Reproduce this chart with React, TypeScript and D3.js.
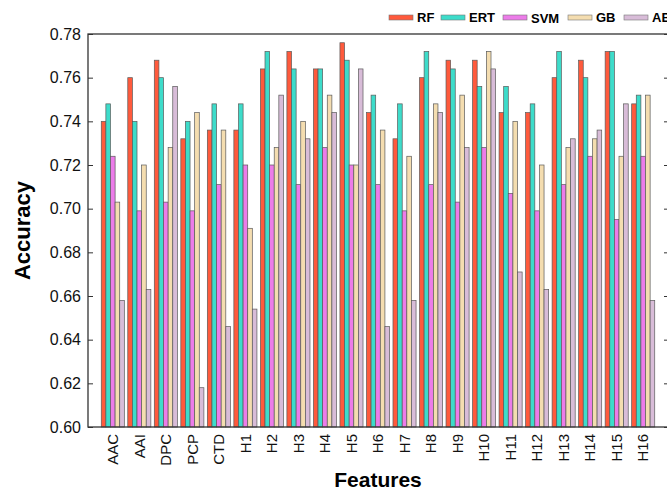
import React, { useEffect, useRef } from 'react';
import * as d3 from 'd3';

// feature sets along the x axis
const features = ['AAC', 'AAI', 'DPC', 'PCP', 'CTD', 'H1', 'H2', 'H3', 'H4', 'H5', 'H6', 'H7', 'H8', 'H9', 'H10', 'H11', 'H12', 'H13', 'H14', 'H15', 'H16'];
const models = ['RF', 'ERT', 'SVM', 'GB', 'AB'];

const rf = [0.740, 0.760, 0.768, 0.732, 0.736, 0.736, 0.764, 0.772, 0.764, 0.776, 0.744, 0.732, 0.760, 0.768, 0.768, 0.744, 0.744, 0.760, 0.768, 0.772, 0.748];
const ert = [0.748, 0.740, 0.760, 0.740, 0.748, 0.748, 0.772, 0.764, 0.764, 0.768, 0.752, 0.748, 0.772, 0.764, 0.756, 0.756, 0.748, 0.772, 0.760, 0.772, 0.752];
const svm = [0.724, 0.699, 0.703, 0.699, 0.711, 0.720, 0.720, 0.711, 0.728, 0.720, 0.711, 0.699, 0.711, 0.703, 0.728, 0.707, 0.699, 0.711, 0.724, 0.695, 0.724];
const gb = [0.703, 0.720, 0.728, 0.744, 0.736, 0.691, 0.728, 0.740, 0.752, 0.720, 0.736, 0.724, 0.748, 0.752, 0.772, 0.740, 0.720, 0.728, 0.732, 0.724, 0.752];
const ab = [0.658, 0.663, 0.756, 0.618, 0.646, 0.654, 0.752, 0.732, 0.744, 0.764, 0.646, 0.658, 0.744, 0.728, 0.764, 0.671, 0.663, 0.732, 0.736, 0.748, 0.658];

const yTicks = [0.60, 0.62, 0.64, 0.66, 0.68, 0.70, 0.72, 0.74, 0.76, 0.78];
const colors = ['#ff5a3c', '#3ddcca', '#ec7ce9', '#f4ddb0', '#d8bcd8'];

const font = '"Liberation Sans", Arial, sans-serif';

const BarChart = () => {
    const ref = useRef<SVGSVGElement>(null);

    useEffect(() => {
        const svg = d3.select(ref.current);
        svg.selectAll('*').remove();

        const left = 88, right = 668, top = 34, bottom = 427;

        const values = [rf, ert, svm, gb, ab];

        const x = d3.scaleBand().domain(features).range([left, right]).paddingInner(0.13).paddingOuter(0.5);
        const xi = d3.scaleBand().domain(models).range([0, x.bandwidth()]);
        const y = d3.scaleLinear().domain([0.6, 0.78]).range([bottom, top]);

        // bars
        features.forEach((f, i) => {
            const g = svg.append('g').attr('transform', `translate(${x(f)},0)`);
            models.forEach((m, j) => {
                const v = values[j][i];
                g.append('rect')
                    .attr('x', xi(m)!)
                    .attr('y', y(v))
                    .attr('width', xi.bandwidth())
                    .attr('height', y(0.6) - y(v))
                    .attr('fill', colors[j])
                    .attr('stroke', '#5a5a5a')
                    .attr('stroke-width', 0.7);
            });
        });

        // frame
        svg.append('rect')
            .attr('x', left).attr('y', top)
            .attr('width', right - left).attr('height', bottom - top)
            .attr('fill', 'none').attr('stroke', '#333').attr('stroke-width', 1.3);

        // y axis (inward ticks)
        const yAxis = svg.append('g').attr('transform', `translate(${left},0)`)
            .call(d3.axisLeft(y).tickValues(yTicks).tickFormat(d3.format('.2f')).tickSizeInner(-5).tickSizeOuter(0).tickPadding(7));
        yAxis.select('.domain').remove();
        yAxis.selectAll('line').attr('stroke', '#333');
        yAxis.selectAll('text').attr('font-family', font).attr('font-size', 16).attr('fill', '#111');

        const yRight = svg.append('g').attr('transform', `translate(${right},0)`)
            .call(d3.axisRight(y).tickValues(yTicks).tickFormat(() => '').tickSizeInner(-4).tickSizeOuter(0));
        yRight.select('.domain').remove();
        yRight.selectAll('line').attr('stroke', '#333');

        // x axis labels (rotated)
        const xAxis = svg.append('g').attr('transform', `translate(0,${bottom})`)
            .call(d3.axisBottom(x).tickSize(0).tickPadding(0));
        xAxis.select('.domain').remove();
        xAxis.selectAll('text')
            .attr('font-family', font).attr('font-size', 15).attr('fill', '#111')
            .attr('transform', 'rotate(-90)')
            .attr('text-anchor', 'end')
            .attr('x', -7).attr('y', 0).attr('dy', '0.35em');

        // axis titles
        svg.append('text')
            .attr('transform', `translate(30,${(top + bottom) / 2}) rotate(-90)`)
            .attr('text-anchor', 'middle')
            .attr('font-family', font).attr('font-size', 22).attr('font-weight', 'bold')
            .text('Accuracy');
        svg.append('text')
            .attr('x', 378).attr('y', 487)
            .attr('text-anchor', 'middle')
            .attr('font-family', font).attr('font-size', 21).attr('font-weight', 'bold')
            .text('Features');

        // legend
        const legendX = [389, 441, 503, 568, 624];
        models.forEach((m, j) => {
            svg.append('rect')
                .attr('x', legendX[j]).attr('y', 15)
                .attr('width', 24).attr('height', 5)
                .attr('fill', colors[j]).attr('stroke', '#777').attr('stroke-width', 0.6);
            svg.append('text')
                .attr('x', legendX[j] + 28).attr('y', j === 2 ? 23 : 22)
                .attr('font-family', font).attr('font-size', 13).attr('font-weight', 'bold')
                .text(m);
        });
    }, []);

    return <svg ref={ref} width={667} height={491} style={{ display: 'block' }} />;
};

export default function App() {
    return (
        <div style={{ position: 'fixed', left: 0, top: 0, width: 667, height: 491, overflow: 'hidden', background: '#fff' }}>
            <BarChart />
        </div>
    );
}
